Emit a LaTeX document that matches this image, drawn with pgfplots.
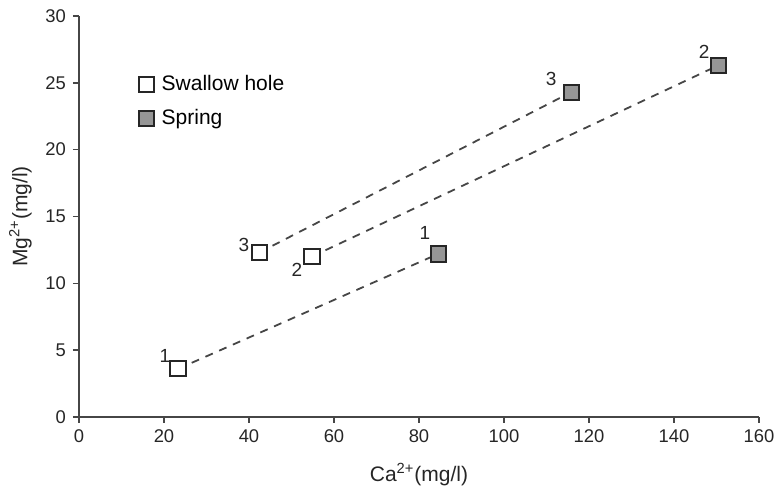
\documentclass[border=0pt]{standalone}
\usepackage{fontspec}
\setmainfont{Liberation Sans}
\usepackage{pgfplots}
\pgfplotsset{compat=1.18}

\definecolor{axisgray}{RGB}{70,70,70}
\definecolor{springfill}{RGB}{150,150,150}

\begin{document}
\begin{tikzpicture}
  \useasboundingbox (-39.5pt,-42.5pt) rectangle (349pt,208.5pt);
  \begin{axis}[
      scale only axis,
      width=340pt, height=200.5pt,
      xmin=0, xmax=160, ymin=0, ymax=30,
      xtick={0,20,...,160},
      ytick={0,5,...,30},
      axis lines=left,
      axis line style={axisgray, line width=1pt, -},
      tick style={axisgray, line width=0.8pt},
      tick align=outside,
      major tick length=3pt,
      /pgf/number format/assume math mode=true,
      ticklabel style={font=\fontsize{9.2}{11}\selectfont, text=black!85},
      xlabel={Ca\textsuperscript{2+}(mg/l)},
      ylabel={Mg\textsuperscript{2+}(mg/l)},
      label style={font=\fontsize{10.5}{12}\selectfont, text=black!85},
      xlabel style={yshift=-3pt},
      ylabel style={yshift=0pt},
      legend style={
        at={(axis cs:12.5,26.2)}, anchor=north west,
        draw=none, fill=none,
        font=\fontsize{10.5}{12}\selectfont,
        row sep=4pt,
        legend cell align=left,
        nodes={inner xsep=4pt},
      },
      clip=false,
    ]

    % dashed connectors: swallow hole i -> spring i
    \addplot[forget plot, axisgray, line width=0.9pt, dash pattern=on 4pt off 3.5pt]
      coordinates {(23.3,3.6) (84.5,12.2)};
    \addplot[forget plot, axisgray, line width=0.9pt, dash pattern=on 4pt off 3.5pt]
      coordinates {(54.8,12.0) (150.4,26.3)};
    \addplot[forget plot, axisgray, line width=0.9pt, dash pattern=on 4pt off 3.5pt]
      coordinates {(42.4,12.3) (115.8,24.3)};

    % swallow holes 1,2,3
    \addplot[only marks, mark=square*, mark size=3.8pt,
      mark options={fill=white, draw=black!85, line width=1pt}]
      coordinates {(23.3,3.6) (54.8,12.0) (42.4,12.3)};
    \addlegendentry{Swallow hole}

    % springs 1,2,3
    \addplot[only marks, mark=square*, mark size=3.8pt,
      mark options={fill=springfill, draw=black!85, line width=1pt}]
      coordinates {(84.5,12.2) (150.4,26.3) (115.8,24.3)};
    \addlegendentry{Spring}

    % point numbers
    \begin{scope}[every node/.style={font=\fontsize{9.5}{11}\selectfont, text=black!85}]
      \node at (axis cs:20.2,4.6) {1};
      \node at (axis cs:38.8,12.9) {3};
      \node at (axis cs:51.3,11.0) {2};
      \node at (axis cs:81.4,13.8) {1};
      \node at (axis cs:111.1,25.3) {3};
      \node at (axis cs:147.1,27.3) {2};
    \end{scope}
  \end{axis}
\end{tikzpicture}
\end{document}
